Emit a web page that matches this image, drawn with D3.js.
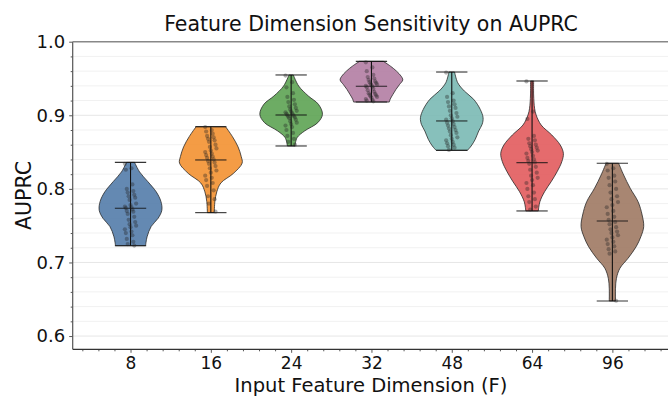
<!DOCTYPE html>
<html>
<head>
<meta charset="utf-8">
<script src="https://cdn.jsdelivr.net/npm/d3@7"></script>
<style>
  html, body { margin: 0; padding: 0; background: #fff; }
  svg { display: block; font-family: "DejaVu Sans", sans-serif; }
</style>
</head>
<body>
<svg id="chart" width="668" height="397"></svg>
<script>
// ---------------- data ----------------
const categories = ["8", "16", "24", "32", "48", "64", "96"];
const palette = ["#4e79a7", "#f28e2b", "#59a14f", "#b07aa1", "#76b7b2", "#e15759", "#9c755f"];

const minValues    = [0.7228, 0.7677, 0.8583, 0.9180, 0.8524, 0.7700, 0.6477];
const maxValues    = [0.8360, 0.8845, 0.9548, 0.9733, 0.9588, 0.9466, 0.8348];
const medianValues = [0.7736, 0.8393, 0.9004, 0.9394, 0.8923, 0.8356, 0.7564];

// violin outlines: [AUPRC value, relative half-width]
const profile8 = [[0.836,0.13],[0.823,0.29],[0.810,0.55],[0.796,0.82],[0.783,0.97],[0.771,1.0],[0.760,0.88],[0.749,0.66],[0.735,0.53],[0.7228,0.48]];
const profile16 = [[0.8845,0.47],[0.871,0.69],[0.857,0.87],[0.844,0.97],[0.835,1.0],[0.821,0.72],[0.808,0.32],[0.796,0.19],[0.783,0.13],[0.7677,0.11]];
const profile24 = [[0.9548,0.07],[0.9398,0.24],[0.9262,0.55],[0.915,0.87],[0.9014,1.0],[0.890,0.85],[0.8787,0.43],[0.8696,0.19],[0.8583,0.12]];
const profile32 = [[0.9733,0.38],[0.967,0.6],[0.960,0.8],[0.953,0.95],[0.948,1.0],[0.942,0.9],[0.935,0.78],[0.928,0.68],[0.922,0.6],[0.918,0.57]];
const profile48 = [[0.9588,0.09],[0.9443,0.19],[0.933,0.4],[0.9217,0.7],[0.908,0.91],[0.8967,1.0],[0.8877,0.97],[0.8787,0.86],[0.8674,0.75],[0.8583,0.62],[0.8524,0.5]];
const profile64 = [[0.9466,0.05],[0.9276,0.05],[0.9095,0.08],[0.9004,0.13],[0.8868,0.29],[0.8732,0.63],[0.8596,0.9],[0.8483,1.0],[0.837,0.95],[0.8234,0.8],[0.8098,0.61],[0.7962,0.4],[0.7826,0.25],[0.770,0.2]];
const profile96 = [[0.8348,0.2],[0.8189,0.36],[0.8008,0.57],[0.7826,0.82],[0.7645,0.95],[0.7487,1.0],[0.7351,0.91],[0.7215,0.76],[0.7057,0.5],[0.6921,0.24],[0.6785,0.13],[0.665,0.1],[0.6477,0.1]];
const profiles = [profile8, profile16, profile24, profile32, profile48, profile64, profile96];

// individual runs (strip points)
const points8  = [0.834,0.828,0.826,0.806,0.800,0.797,0.795,0.792,0.790,0.788,0.785,0.780,0.778,0.776,0.775,0.774,0.772,0.770,0.769,0.766,0.762,0.758,0.755,0.752,0.750,0.748,0.745,0.742,0.740,0.737,0.732,0.728,0.725,0.723];
const points16 = [0.884,0.880,0.878,0.875,0.872,0.870,0.868,0.866,0.864,0.860,0.857,0.855,0.852,0.850,0.848,0.846,0.844,0.842,0.840,0.838,0.836,0.834,0.831,0.828,0.825,0.822,0.818,0.815,0.812,0.808,0.804,0.798,0.790,0.786,0.780,0.769];
const points24 = [0.954,0.945,0.938,0.930,0.925,0.921,0.918,0.915,0.912,0.910,0.908,0.906,0.905,0.904,0.903,0.902,0.901,0.900,0.899,0.898,0.897,0.896,0.894,0.892,0.890,0.888,0.886,0.884,0.880,0.876,0.872,0.868,0.864,0.860];
const points32 = [0.972,0.965,0.960,0.955,0.952,0.950,0.948,0.946,0.945,0.944,0.943,0.942,0.941,0.940,0.939,0.938,0.936,0.934,0.932,0.930,0.929,0.928,0.927,0.926,0.925,0.924,0.922,0.921,0.920,0.919];
const points48 = [0.958,0.930,0.925,0.920,0.918,0.915,0.912,0.910,0.906,0.903,0.900,0.898,0.896,0.894,0.892,0.890,0.888,0.886,0.884,0.882,0.880,0.878,0.876,0.873,0.870,0.868,0.866,0.864,0.862,0.860,0.858,0.856,0.853];
const points64 = [0.946,0.905,0.895,0.872,0.868,0.866,0.862,0.860,0.858,0.856,0.854,0.852,0.850,0.848,0.845,0.842,0.840,0.838,0.836,0.834,0.830,0.826,0.822,0.818,0.815,0.812,0.808,0.805,0.800,0.795,0.790,0.786,0.782,0.776,0.772];
const points96 = [0.834,0.828,0.825,0.818,0.815,0.810,0.805,0.800,0.795,0.790,0.786,0.782,0.778,0.775,0.770,0.766,0.762,0.758,0.755,0.752,0.748,0.745,0.742,0.740,0.737,0.734,0.731,0.728,0.725,0.722,0.718,0.715,0.712,0.648];
const pointSets = [points8, points16, points24, points32, points48, points64, points96];

const yMajorTicks = [0.6, 0.7, 0.8, 0.9, 1.0];

(function draw() {
  const svg = d3.select("#chart");
  const pL = 72.7, pR = 670.2, pT = 41.7, pB = 349.3;

  const x = d3.scaleLinear().domain([-0.72, 6.72]).range([pL, pR]);
  const y = d3.scaleLinear().domain([0.582, 1.0]).range([pB, pT]);

  const violinWidth = 0.78;
  const halfW = violinWidth / 2;
  const capHalf = violinWidth / 4;

  // grid lines (major + minor)
  const gridVals = d3.range(0, 21).map(i => +(0.60 + i * 0.02).toFixed(2)).filter(v => v < 1.0);
  svg.append("g").selectAll("line").data(gridVals).join("line")
    .attr("x1", pL).attr("x2", pR)
    .attr("y1", d => y(d)).attr("y2", d => y(d))
    .attr("stroke", d => (Math.abs(d * 10 - Math.round(d * 10)) < 1e-6) ? "#e6e6e6" : "#f1f1f1")
    .attr("stroke-width", 1);

  // violins
  profiles.forEach((prof, i) => {
    const gen = d3.area()
      .curve(d3.curveCatmullRom.alpha(0.5))
      .y(d => y(d[0]))
      .x0(d => x(i - d[1] * halfW))
      .x1(d => x(i + d[1] * halfW));
    svg.append("path")
      .datum(prof)
      .attr("d", gen)
      .attr("fill", palette[i])
      .attr("fill-opacity", 0.88)
      .attr("stroke", "#222")
      .attr("stroke-opacity", 0.85)
      .attr("stroke-width", 0.9);
  });

  // bars, caps, medians
  const lines = svg.append("g").attr("stroke", "#111").attr("stroke-width", 1.1);
  categories.forEach((c, i) => {
    lines.append("line").attr("x1", x(i)).attr("x2", x(i)).attr("y1", y(minValues[i])).attr("y2", y(maxValues[i]));
    [minValues[i], maxValues[i], medianValues[i]].forEach(v => {
      lines.append("line")
        .attr("x1", x(i - capHalf)).attr("x2", x(i + capHalf))
        .attr("y1", y(v)).attr("y2", y(v))
        .attr("stroke-opacity", 0.85);
    });
  });

  // jittered points (deterministic jitter pattern)
  pointSets.forEach((pts, i) => {
    svg.append("g").selectAll("circle").data(pts).join("circle")
      .attr("cx", (d, k) => x(i + (((k * 7) % 13) - 6) / 6 * 0.07))
      .attr("cy", d => y(d))
      .attr("r", 2.1)
      .attr("fill", "#222")
      .attr("fill-opacity", 0.36);
  });

  // axes
  const yAxis = svg.append("g").attr("transform", `translate(${pL},0)`)
    .call(d3.axisLeft(y).tickValues(yMajorTicks).tickFormat(d3.format(".1f")).tickSize(3.5).tickPadding(4));
  const yMinor = svg.append("g").attr("transform", `translate(${pL},0)`)
    .call(d3.axisLeft(y).tickValues(gridVals.filter(v => !yMajorTicks.some(m => Math.abs(m - v) < 1e-6))).tickFormat("").tickSize(2));

  const xAxis = svg.append("g").attr("transform", `translate(0,${pB})`)
    .call(d3.axisBottom(x).tickValues(d3.range(categories.length)).tickFormat(i => categories[i]).tickSize(3.5).tickPadding(4.5));
  const xMinorVals = d3.range(-3, 34).map(k => +(k * 0.2).toFixed(2)).filter(v => Math.abs(v - Math.round(v)) > 1e-6 && v > -0.72 && v < 6.72);
  const xMinor = svg.append("g").attr("transform", `translate(0,${pB})`)
    .call(d3.axisBottom(x).tickValues(xMinorVals).tickFormat("").tickSize(2));

  [yAxis, yMinor, xAxis, xMinor].forEach(g => {
    g.select(".domain").remove();
    g.selectAll(".tick line").attr("stroke", "#444").attr("stroke-width", 0.9);
    g.selectAll("text").attr("fill", "#111").style("font-family", "DejaVu Sans");
  });
  yAxis.selectAll("text").style("font-size", "18px");
  xAxis.selectAll("text").style("font-size", "17px");

  // spines
  svg.append("line").attr("x1", pL).attr("x2", pL).attr("y1", pT).attr("y2", pB).attr("stroke", "#555").attr("stroke-width", 1.2);
  svg.append("line").attr("x1", pL).attr("x2", pR).attr("y1", pB).attr("y2", pB).attr("stroke", "#333").attr("stroke-width", 1.2);
  svg.append("line").attr("x1", pL).attr("x2", pR).attr("y1", pT).attr("y2", pT).attr("stroke", "#888").attr("stroke-width", 1.6);

  // titles
  svg.append("text").attr("x", 371).attr("y", 30.7).attr("text-anchor", "middle")
    .style("font-size", "20.5px").attr("fill", "#111").text("Feature Dimension Sensitivity on AUPRC");
  svg.append("text").attr("x", 371).attr("y", 392).attr("text-anchor", "middle")
    .style("font-size", "19.5px").attr("fill", "#111").text("Input Feature Dimension (F)");
  svg.append("text").attr("transform", `translate(30.5,${(pT + pB) / 2}) rotate(-90)`).attr("text-anchor", "middle")
    .style("font-size", "20.5px").attr("fill", "#111").text("AUPRC");
})();
</script>
</body>
</html>
